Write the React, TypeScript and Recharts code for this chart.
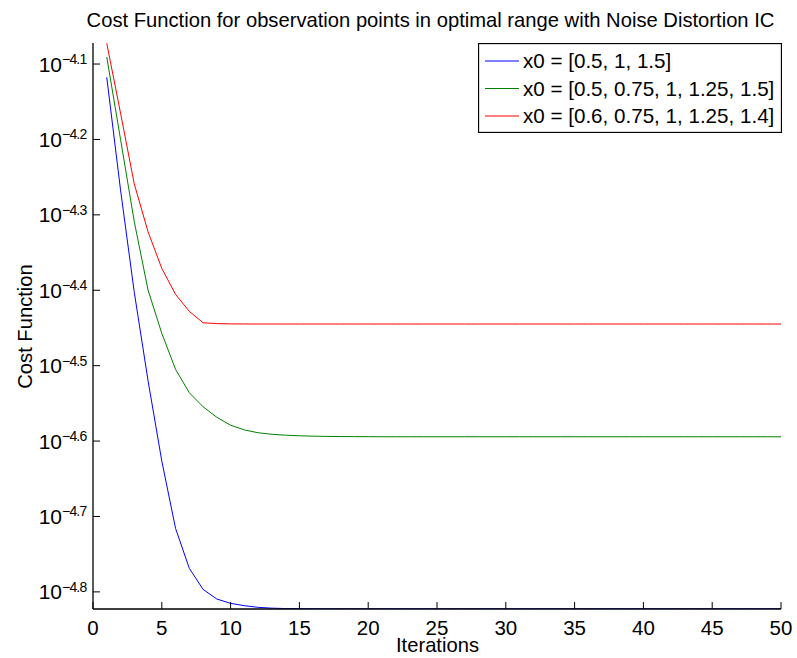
import React from 'react';
import { LineChart, Line, XAxis, YAxis, Legend } from 'recharts';

const iterations = [1,2,3,4,5,6,7,8,9,10,11,12,13,14,15,16,17,18,19,20,21,22,23,24,25,26,27,28,29,30,31,32,33,34,35,36,37,38,39,40,41,42,43,44,45,46,47,48,49,50];

// log10 of the cost function (y axis is logarithmic)
const blueLog10 = [-4.1176,-4.2668,-4.4027,-4.5198,-4.6265,-4.7158,-4.7688,-4.7967,-4.8095,-4.8152,-4.8183,-4.8205,-4.8216,-4.8221,-4.8223,-4.8224,-4.8224,-4.8224,-4.8224,-4.8224,-4.8224,-4.8224,-4.8224,-4.8224,-4.8224,-4.8224,-4.8224,-4.8224,-4.8224,-4.8224,-4.8224,-4.8224,-4.8224,-4.8224,-4.8224,-4.8224,-4.8224,-4.8224,-4.8224,-4.8224,-4.8224,-4.8224,-4.8224,-4.8224,-4.8224,-4.8224,-4.8224,-4.8224,-4.8224,-4.8224];
const greenLog10 = [-4.0907,-4.1997,-4.3090,-4.3997,-4.4572,-4.5049,-4.5359,-4.5545,-4.5685,-4.5790,-4.5852,-4.5890,-4.5910,-4.5922,-4.5930,-4.5935,-4.5938,-4.5940,-4.5941,-4.5942,-4.5943,-4.5943,-4.5943,-4.5943,-4.5943,-4.5943,-4.5943,-4.5943,-4.5943,-4.5943,-4.5943,-4.5943,-4.5943,-4.5943,-4.5943,-4.5943,-4.5943,-4.5943,-4.5943,-4.5943,-4.5943,-4.5943,-4.5943,-4.5943,-4.5943,-4.5943,-4.5943,-4.5943,-4.5943,-4.5943];
const redLog10 = [-4.0725,-4.1650,-4.2590,-4.3224,-4.3710,-4.4055,-4.4280,-4.4431,-4.4442,-4.4446,-4.4447,-4.4448,-4.4448,-4.4448,-4.4448,-4.4448,-4.4448,-4.4448,-4.4448,-4.4448,-4.4448,-4.4448,-4.4448,-4.4448,-4.4448,-4.4448,-4.4448,-4.4448,-4.4448,-4.4448,-4.4448,-4.4448,-4.4448,-4.4448,-4.4448,-4.4448,-4.4448,-4.4448,-4.4448,-4.4448,-4.4448,-4.4448,-4.4448,-4.4448,-4.4448,-4.4448,-4.4448,-4.4448,-4.4448,-4.4448];

const seriesNames = ['x0 = [0.5, 1, 1.5]', 'x0 = [0.5, 0.75, 1, 1.25, 1.5]', 'x0 = [0.6, 0.75, 1, 1.25, 1.4]'];
const seriesColors = ['#0000ff', '#008000', '#ff0000'];
const xTicks = [0, 5, 10, 15, 20, 25, 30, 35, 40, 45, 50];
const yTicks = [-4.8, -4.7, -4.6, -4.5, -4.4, -4.3, -4.2, -4.1];
const yDomain = [-4.8227, -4.0721];
const title = 'Cost Function for observation points in optimal range with Noise Distortion IC';
const xLabel = 'Iterations';
const yLabel = 'Cost Function';

const data = iterations.map((it, i) => ({ it, blue: blueLog10[i], green: greenLog10[i], red: redLog10[i] }));

const FONT = '"Liberation Sans", Arial, Helvetica, sans-serif';
const TICK = 7;

const BottomTick = (p: any) => (
  <g>
    <line x1={p.x} y1={p.y} x2={p.x} y2={p.y - TICK} stroke="#000" strokeWidth={1} />
    <text x={p.x} y={p.y + 25.5} textAnchor="middle" fontSize={20.5} fontFamily={FONT} fill="#000">{p.payload.value}</text>
  </g>
);
const TopTick = (p: any) => (
  <line x1={p.x} y1={p.y} x2={p.x} y2={p.y + TICK} stroke="#000" strokeWidth={1} />
);
const LeftTick = (p: any) => {
  const v = p.payload.value;
  return (
    <g>
      <line x1={p.x} y1={p.y} x2={p.x + TICK} y2={p.y} stroke="#000" strokeWidth={1} />
      <text x={p.x - 31} y={p.y + 7.6} textAnchor="end" fontSize={21} fontFamily={FONT} fill="#000">10</text>
      <text x={p.x - 31} y={p.y} textAnchor="start" fontSize={14} fontFamily={FONT} fill="#000" letterSpacing={-0.8}>{'\u2212' + Math.abs(v).toFixed(1)}</text>
    </g>
  );
};
const RightTick = (p: any) => (
  <line x1={p.x} y1={p.y} x2={p.x - TICK} y2={p.y} stroke="#000" strokeWidth={1} />
);

const LegendBox = () => (
  <svg width={304} height={90} style={{ display: 'block' }}>
    <rect x={0.5} y={0.5} width={303} height={89} fill="#fff" stroke="#000" strokeWidth={1.3} />
    {seriesNames.map((n, i) => {
      const cy = 18 + i * 27.5;
      return (
        <g key={n}>
          <line x1={7} y1={cy} x2={41} y2={cy} stroke={seriesColors[i]} strokeWidth={1} />
          <text x={45} y={cy + 7.3} fontSize={20.6} fontFamily={FONT} fill="#000">{n}</text>
        </g>
      );
    })}
  </svg>
);

export default function App() {
  return (
    <div style={{ position: 'absolute', left: 0, top: 0, width: 797, height: 658, background: '#fff' }}>
      <LineChart width={797} height={658} data={data} margin={{ top: 43, right: 16, bottom: 0, left: 0 }}>
        <XAxis
          dataKey="it" type="number" domain={[0, 50]} ticks={xTicks} allowDataOverflow
          height={49} tickSize={0} tickMargin={0} tickLine={false}
          axisLine={{ stroke: '#000', strokeWidth: 1.3 }} tick={<BottomTick />} interval={0}
          label={{ content: () => (
            <g>
              <text x={437.5} y={652} textAnchor="middle" fontSize={20.2} fontFamily={FONT} fill="#000">{xLabel}</text>
              <text x={430.5} y={27.3} textAnchor="middle" fontSize={20.2} fontFamily={FONT} fill="#000">{title}</text>
            </g>
          ) }}
        />
        <XAxis
          xAxisId="top" orientation="top" dataKey="it" type="number" domain={[0, 50]} ticks={xTicks} allowDataOverflow
          height={0} tickSize={0} tickMargin={0} tickLine={false}
          axisLine={{ stroke: '#000', strokeWidth: 1.3 }} tick={<TopTick />} interval={0}
        />
        <YAxis
          type="number" domain={yDomain} ticks={yTicks} allowDataOverflow
          width={93} tickSize={0} tickMargin={0} tickLine={false}
          axisLine={{ stroke: '#000', strokeWidth: 1.3 }} tick={<LeftTick />} interval={0}
          label={{ content: () => (
            <text x={31.5} y={326.5} transform="rotate(-90 31.5 326.5)" textAnchor="middle" fontSize={20.2} fontFamily={FONT} fill="#000">{yLabel}</text>
          ) }}
        />
        <YAxis
          yAxisId="right" orientation="right" type="number" domain={yDomain} ticks={yTicks} allowDataOverflow
          width={0} tickSize={0} tickMargin={0} tickLine={false}
          axisLine={{ stroke: '#000', strokeWidth: 1.3 }} tick={<RightTick />} interval={0}
        />
        <Legend
          layout="vertical" align="center" verticalAlign="middle"
          wrapperStyle={{ left: 478, top: 43, width: 304, height: 90 }}
          content={() => <LegendBox />}
        />
        <Line dataKey="blue" name={seriesNames[0]} stroke={seriesColors[0]} strokeWidth={1} dot={false} isAnimationActive={false} />
        <Line dataKey="green" name={seriesNames[1]} stroke={seriesColors[1]} strokeWidth={1} dot={false} isAnimationActive={false} />
        <Line dataKey="red" name={seriesNames[2]} stroke={seriesColors[2]} strokeWidth={1} dot={false} isAnimationActive={false} />
      </LineChart>
    </div>
  );
}
